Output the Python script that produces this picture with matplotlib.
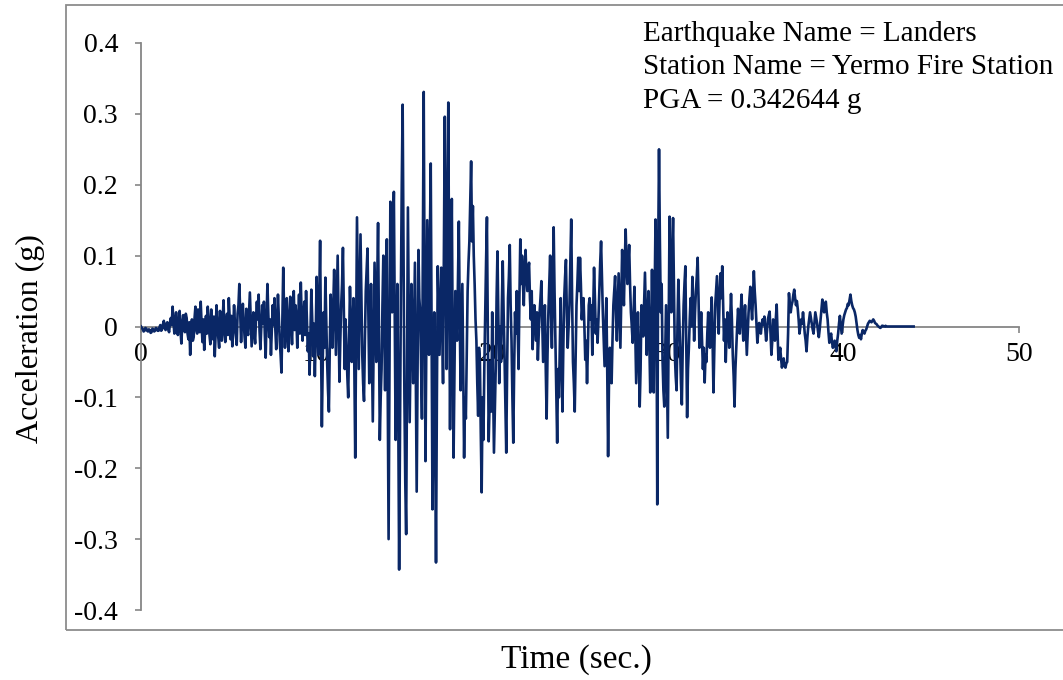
import numpy as np
import matplotlib
matplotlib.use("Agg")
import matplotlib.pyplot as plt
from matplotlib.patches import Rectangle

plt.rcParams["font.family"] = ["Liberation Serif", "DejaVu Serif"]
plt.rcParams["axes.unicode_minus"] = False

# Ground acceleration record (g), sampled every 0.05 s; one row per second
dt = 0.05
accel = [
    0.000, -0.002, -0.004, -0.007, -0.006, -0.002, -0.003, -0.006, -0.007, -0.004, -0.005, -0.009, -0.008, -0.003, -0.004, -0.007, -0.006, -0.002, -0.003, -0.006,  # 0 s
    -0.006, -0.001, 0.002, -0.006, -0.004, 0.003, 0.008, -0.002, -0.005, 0.004, 0.006, -0.004, -0.008, 0.005, 0.012, 0.002, 0.028, 0.006, -0.010, 0.008,  # 1 s
    0.020, -0.004, -0.012, 0.010, 0.022, -0.006, -0.024, 0.004, 0.016, 0.002, -0.008, 0.018, 0.012, -0.010, -0.018, 0.006, -0.040, -0.012, 0.010, -0.020,  # 2 s
    -0.015, 0.012, 0.028, -0.004, -0.010, 0.024, 0.020, -0.008, 0.035, 0.004, -0.022, 0.010, -0.033, -0.006, 0.015, -0.010, 0.028, 0.010, -0.012, -0.025,  # 3 s
    0.024, 0.002, -0.018, 0.014, -0.042, -0.010, 0.030, 0.008, -0.015, -0.030, 0.022, 0.004, -0.020, 0.010, 0.037, -0.008, -0.022, 0.006, 0.018, -0.012,  # 4 s
    0.040, 0.010, -0.018, 0.015, -0.028, -0.006, 0.030, 0.004, -0.012, -0.026, 0.018, 0.030, 0.060, 0.020, -0.022, 0.012, 0.032, 0.006, -0.015, -0.030,  # 5 s
    0.025, -0.005, -0.012, 0.020, 0.048, 0.008, -0.028, -0.004, 0.020, -0.010, -0.024, 0.012, 0.035, 0.010, 0.045, -0.006, -0.032, -0.002, 0.030, 0.004,  # 6 s
    0.035, -0.010, -0.044, 0.012, 0.060, 0.018, -0.015, 0.010, -0.040, -0.005, 0.030, 0.002, 0.040, -0.004, -0.032, 0.010, 0.045, 0.012, -0.020, -0.040,  # 7 s
    -0.065, 0.010, 0.083, 0.020, -0.030, 0.006, 0.040, -0.010, -0.035, 0.012, 0.042, 0.004, -0.025, 0.020, 0.050, -0.005, 0.030, 0.010, -0.030, 0.008,  # 8 s
    0.045, -0.010, 0.062, 0.015, -0.020, 0.010, 0.035, -0.012, 0.050, 0.006, -0.035, -0.010, -0.068, -0.010, 0.052, 0.010, -0.042, 0.004, -0.070, -0.015,  # 9 s
    0.070, 0.010, -0.040, 0.040, 0.121, -0.020, -0.141, -0.050, 0.020, -0.030, 0.069, 0.010, -0.050, -0.090, -0.120, -0.030, 0.045, 0.010, -0.030, 0.030,  # 10 s
    0.080, 0.020, -0.040, 0.030, 0.100, 0.010, -0.078, -0.020, 0.030, 0.060, 0.111, 0.020, -0.060, 0.010, -0.030, -0.070, -0.100, -0.020, 0.056, 0.010,  # 11 s
    -0.050, -0.010, 0.040, -0.060, -0.185, -0.020, 0.154, 0.040, -0.060, 0.030, 0.130, 0.040, -0.040, -0.080, -0.105, -0.020, 0.050, 0.080, 0.110, 0.020,  # 12 s
    -0.080, -0.020, 0.060, -0.040, -0.134, -0.020, 0.090, 0.020, -0.050, 0.060, 0.146, 0.000, -0.160, -0.100, -0.060, 0.030, 0.100, 0.010, -0.090, 0.030,  # 13 s
    0.123, -0.080, -0.300, -0.050, 0.176, 0.100, 0.020, 0.120, 0.190, 0.020, -0.160, -0.040, 0.060, -0.120, -0.343, -0.150, 0.050, 0.200, 0.313, 0.100,  # 14 s
    -0.100, -0.220, -0.293, -0.050, 0.168, 0.020, -0.135, -0.040, 0.060, 0.000, -0.080, 0.010, 0.090, -0.080, -0.233, -0.060, 0.108, 0.040, 0.020, -0.060,  # 15 s
    -0.130, 0.100, 0.331, 0.050, -0.190, -0.020, 0.150, 0.050, -0.040, 0.120, 0.230, -0.020, -0.258, -0.100, 0.020, -0.150, -0.333, -0.100, 0.085, 0.020,  # 16 s
    -0.040, 0.020, 0.083, 0.010, -0.080, 0.120, 0.296, 0.100, -0.060, 0.150, 0.316, 0.050, -0.145, 0.030, 0.180, -0.020, -0.185, -0.060, 0.050, 0.010,  # 17 s
    -0.020, 0.060, 0.148, 0.020, -0.090, -0.010, 0.060, -0.060, -0.185, -0.100, -0.130, -0.040, 0.050, 0.090, 0.120, 0.180, 0.233, 0.120, 0.170, 0.100,  # 18 s
    0.060, 0.010, -0.020, -0.080, -0.126, -0.030, -0.050, -0.150, -0.234, -0.100, -0.160, -0.060, 0.020, 0.090, 0.154, -0.010, -0.162, -0.110, -0.050, -0.120,  # 19 s
    0.020, -0.080, -0.178, -0.120, -0.060, 0.040, 0.106, 0.010, -0.080, 0.000, -0.050, 0.030, 0.092, 0.020, -0.040, -0.110, -0.178, -0.060, 0.040, 0.070,  # 20 s
    0.115, 0.030, -0.020, -0.100, -0.164, -0.060, 0.020, -0.010, 0.050, 0.000, -0.060, 0.040, 0.123, 0.060, 0.100, 0.060, 0.030, 0.080, 0.108, 0.070,  # 21 s
    0.050, 0.080, 0.090, 0.040, 0.010, 0.050, -0.032, 0.000, 0.030, 0.010, -0.020, 0.020, -0.047, -0.010, 0.020, 0.040, 0.064, 0.010, -0.050, -0.010,  # 22 s
    0.030, -0.060, -0.130, -0.040, 0.020, 0.060, 0.100, 0.020, -0.030, 0.060, 0.140, 0.050, -0.020, -0.090, -0.164, -0.060, -0.100, -0.030, 0.040, -0.050,  # 23 s
    -0.120, -0.030, 0.040, 0.070, 0.094, 0.020, -0.030, 0.000, 0.030, 0.090, 0.151, 0.040, -0.050, -0.080, -0.120, -0.040, 0.030, 0.060, 0.097, 0.050,  # 24 s
    0.097, 0.060, 0.010, 0.030, 0.040, 0.000, -0.047, -0.020, -0.080, -0.030, 0.030, 0.040, 0.010, 0.030, -0.040, 0.020, 0.083, 0.040, -0.010, 0.010,  # 25 s
    -0.023, 0.010, 0.050, 0.090, 0.120, 0.070, 0.020, -0.020, -0.056, -0.010, 0.040, -0.060, -0.183, -0.080, -0.030, -0.060, -0.080, -0.020, 0.030, 0.050,  # 26 s
    0.071, 0.020, -0.020, 0.030, 0.075, 0.020, -0.030, 0.040, 0.108, 0.060, 0.030, 0.090, 0.137, 0.090, 0.060, 0.090, 0.115, 0.060, 0.020, 0.000,  # 27 s
    -0.023, 0.020, 0.056, -0.010, -0.080, -0.030, 0.020, -0.040, -0.113, -0.060, 0.030, 0.010, -0.014, 0.030, 0.076, 0.020, -0.040, 0.010, 0.050, -0.020,  # 28 s
    -0.093, 0.000, 0.080, 0.000, -0.093, 0.040, 0.151, 0.080, -0.251, 0.100, 0.250, 0.120, 0.020, 0.060, -0.047, -0.090, -0.113, -0.040, 0.030, -0.060,  # 29 s
    -0.157, 0.000, 0.155, 0.080, 0.020, 0.100, 0.153, 0.050, -0.040, -0.070, -0.090, 0.000, 0.066, 0.020, -0.030, -0.080, -0.110, -0.030, 0.030, 0.060,  # 30 s
    0.085, -0.020, -0.128, -0.060, -0.030, 0.010, 0.040, 0.000, 0.070, 0.030, -0.020, 0.020, 0.050, 0.070, 0.097, 0.040, -0.030, -0.010, 0.020, -0.020,  # 31 s
    -0.060, -0.030, -0.079, -0.040, -0.050, -0.010, 0.020, -0.010, -0.030, 0.010, 0.041, -0.020, -0.093, -0.030, 0.030, 0.050, 0.071, 0.030, -0.010, 0.040,  # 32 s
    0.075, 0.040, 0.085, 0.030, -0.020, 0.010, -0.050, -0.010, 0.020, 0.000, -0.030, 0.010, 0.046, 0.010, -0.040, -0.070, -0.113, -0.060, -0.030, 0.000,  # 33 s
    0.025, 0.005, -0.010, 0.020, 0.045, 0.010, -0.020, 0.010, 0.030, -0.005, -0.040, -0.010, 0.020, 0.040, 0.056, 0.030, 0.010, 0.040, 0.078, 0.050,  # 34 s
    0.030, 0.005, -0.023, -0.008, 0.005, -0.004, -0.010, 0.004, 0.010, 0.002, 0.014, -0.004, -0.020, -0.006, 0.010, 0.016, 0.021, -0.010, -0.040, -0.020,  # 35 s
    0.010, 0.000, -0.020, 0.010, 0.031, -0.010, -0.047, -0.040, -0.030, -0.045, -0.058, -0.050, -0.045, -0.055, -0.058, -0.052, -0.050, -0.010, 0.047, 0.030,  # 36 s
    0.020, 0.030, 0.035, 0.045, 0.052, 0.040, 0.030, 0.036, 0.025, 0.010, -0.010, 0.000, 0.010, 0.004, 0.020, 0.005, -0.010, -0.020, -0.035, -0.015,  # 37 s
    0.000, 0.010, 0.020, 0.012, 0.005, -0.004, -0.010, 0.006, 0.020, 0.012, 0.005, -0.006, -0.015, -0.004, 0.010, 0.025, 0.038, 0.030, 0.020, 0.032,  # 38 s
    0.035, 0.020, 0.010, -0.008, -0.023, -0.015, -0.010, -0.022, -0.030, -0.025, -0.020, -0.028, -0.035, -0.020, -0.010, 0.004, 0.015, 0.002, -0.010, 0.000,  # 39 s
    0.010, 0.016, 0.020, 0.024, 0.026, 0.032, 0.030, 0.038, 0.045, 0.036, 0.030, 0.026, 0.024, 0.020, 0.014, 0.004, -0.005, -0.012, -0.016, -0.012,  # 40 s
    -0.018, -0.010, -0.005, -0.008, -0.010, -0.006, -0.004, 0.000, 0.004, 0.006, 0.008, 0.007, 0.006, 0.008, 0.010, 0.008, 0.005, 0.004, 0.003, 0.001,  # 41 s
    0.000, -0.001, -0.002, -0.001, 0.001, 0.001, 0.000, 0.000, 0.001, 0.000, 0.000, 0.000, 0.000, 0.000, 0.000, 0.000, 0.000, 0.000, 0.000, 0.000,  # 42 s
    0.000, 0.000, 0.000, 0.000, 0.000, 0.000, 0.000, 0.000, 0.000, 0.000, 0.000, 0.000, 0.000, 0.000, 0.000, 0.000, 0.000, 0.000, 0.000, 0.000,  # 43 s
    0.000,  # 44 s
]

x_ticks = [0, 10, 20, 30, 40, 50]
x_tick_labels = ["0", "10", "20", "30", "40", "50"]
y_ticks = [0.4, 0.3, 0.2, 0.1, 0.0, -0.1, -0.2, -0.3, -0.4]
y_tick_labels = ["0.4", "0.3", "0.2", "0.1", "0", "-0.1", "-0.2", "-0.3", "-0.4"]

info_lines = [
    "Earthquake Name = Landers",
    "Station Name = Yermo Fire Station",
    "PGA = 0.342644 g",
]

time = np.arange(len(accel)) * dt

W, H = 1063, 680
fig = plt.figure(figsize=(W / 100, H / 100), dpi=100)
fig.patch.set_facecolor("white")

# chart-area border
fig.patches.append(Rectangle((66 / W, 1 - 630 / H), 1.2, (630 - 5) / H,
                             transform=fig.transFigure, fill=False,
                             edgecolor="#8c8c8c", linewidth=1.3, zorder=0))

ax = fig.add_axes([141 / W, 1 - 610 / H, (1019 - 141) / W, (610 - 43) / H])
ax.set_facecolor("none")

ax.plot(time, accel, color="#0a2766", linewidth=1.9, zorder=3)

ax.set_xlim(0, 50)
ax.set_ylim(-0.4, 0.4)

axis_grey = "#868686"
for s in ["top", "right"]:
    ax.spines[s].set_visible(False)
ax.spines["bottom"].set_position(("data", 0))
ax.spines["bottom"].set_color(axis_grey)
ax.spines["left"].set_color(axis_grey)
ax.spines["bottom"].set_linewidth(1.3)
ax.spines["left"].set_linewidth(1.3)

ax.set_xticks(x_ticks)
ax.set_xticklabels(x_tick_labels)
ax.set_yticks(y_ticks)
ax.set_yticklabels(y_tick_labels)
ax.tick_params(axis="x", direction="out", length=4.5, width=1.2, color=axis_grey,
               labelsize=20, pad=7, labelcolor="black")
ax.tick_params(axis="y", direction="out", length=4.5, width=1.2, color=axis_grey,
               labelsize=20, pad=12, labelcolor="black")

fig.text(30 / W, 1 - 339 / H, "Acceleration (g)", rotation=90, ha="center",
         va="center", fontsize=23)
fig.text(576 / W, 1 - 660 / H, "Time (sec.)", ha="center", va="center",
         fontsize=24)

for i, line in enumerate(info_lines):
    fig.text(643 / W, 1 - (34 + 33.5 * i) / H, line, ha="left", va="center",
             fontsize=21)

fig.savefig("out.png", dpi=100, facecolor="white")
